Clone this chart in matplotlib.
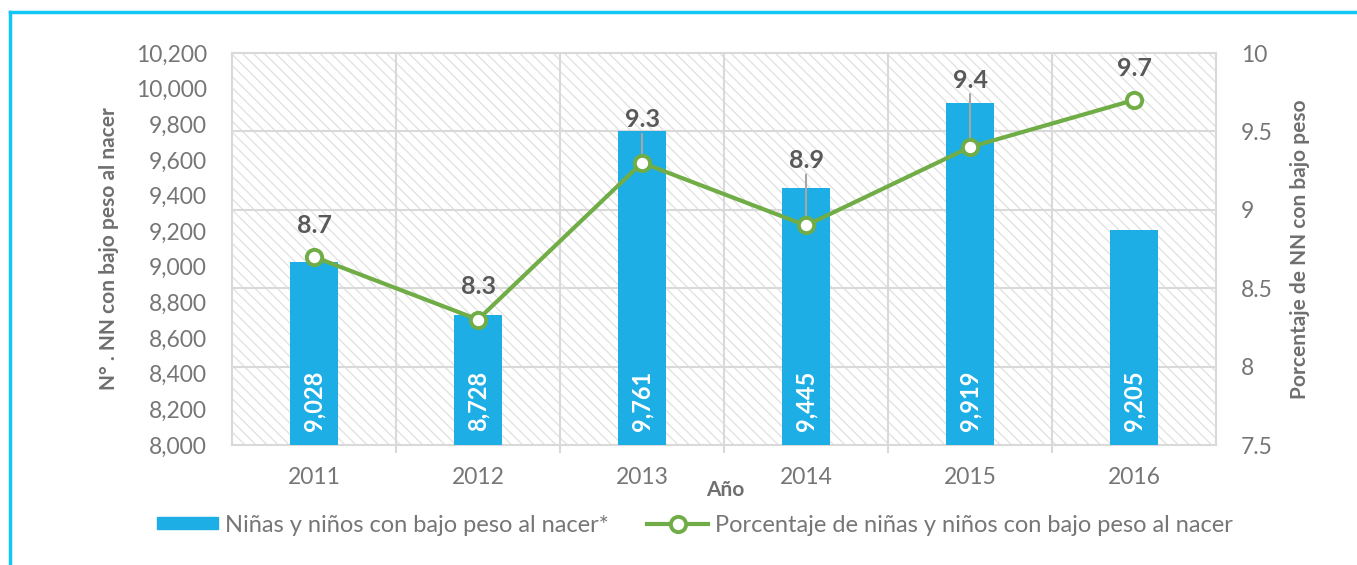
import matplotlib
matplotlib.use("Agg")
import matplotlib.pyplot as plt
from matplotlib.patches import Rectangle
from matplotlib.lines import Line2D
from matplotlib.ticker import FuncFormatter, MultipleLocator, FixedLocator

# ---- data ----
years = ["2011", "2012", "2013", "2014", "2015", "2016"]
counts = [9028, 8728, 9761, 9445, 9919, 9205]
percent = [8.7, 8.3, 9.3, 8.9, 9.4, 9.7]
bar_name = "Niñas y niños con bajo peso al nacer*"
line_name = "Porcentaje de niñas y niños con bajo peso al nacer"
ylabel_left = "N° . NN con bajo peso al nacer"
ylabel_right = "Porcentaje de NN con bajo peso"
xlabel = "Año"

# label offsets (pixels above point) and whether a leader line is drawn
label_offsets = [31, 33, 43, 65, 67, 32]
leaders = [False, False, True, True, True, False]

FONT = "Lato"
plt.rcParams['font.family'] = [FONT, 'DejaVu Sans']
plt.rcParams['hatch.linewidth'] = 0.9
TICK_C = "#767676"
LAB_C = "#6f6f6f"
GRID_C = "#d9d9d9"
BAR_C = "#1CAEE4"
LINE_C = "#70AD47"
FRAME_C = "#12C6F5"

fig = plt.figure(figsize=(13.57, 5.65), dpi=100)
W, H = 1357, 565
L, R, T, B = 232, 1216, 53, 445
ax = fig.add_axes([L / W, 1 - B / H, (R - L) / W, (B - T) / H])
ax2 = ax.twinx()

x = list(range(len(years)))

# hatched background
ax.add_patch(Rectangle((0, 0), 1, 1, transform=ax.transAxes, facecolor="white",
                       edgecolor="#e0e0e0", hatch="\\\\\\", lw=0, zorder=0))

ax.bar(x, counts, width=0.29, color=BAR_C, zorder=3)
ax.set_ylim(8000, 10200)
ax.set_xlim(-0.5, len(years) - 0.5)
ax.yaxis.set_major_locator(MultipleLocator(200))
ax.yaxis.set_major_formatter(FuncFormatter(lambda v, p: f"{int(v):,}"))
ax.set_xticks(x)
ax.set_xticklabels(years)
ax.xaxis.set_minor_locator(FixedLocator([i + 0.5 for i in range(len(years) - 1)]))
ax.tick_params(axis='x', which='major', length=0, pad=16, labelsize=16.5, labelcolor=TICK_C)
ax.tick_params(axis='x', which='minor', length=6, width=1.5, color=GRID_C)
ax.tick_params(axis='y', length=0, pad=18, labelsize=16.5, labelcolor=TICK_C)
ax.grid(axis='x', which='minor', color=GRID_C, lw=1.5, zorder=1)
for s in ax.spines.values():
    s.set_color(GRID_C)
    s.set_linewidth(1.5)

# bar value labels
for xi, c in zip(x, counts):
    ax.annotate(f"{c:,}", (xi, 8000), xytext=(0, 14), textcoords="offset pixels",
                rotation=90, ha="center", va="bottom", color="white",
                fontsize=17, fontweight="bold", zorder=5)

ax.set_ylabel(ylabel_left, fontsize=15, fontweight="bold", color=LAB_C, labelpad=12)
ax.set_xlabel(xlabel, fontsize=15, fontweight="bold", color=LAB_C, va="center")
ax.xaxis.set_label_coords((725 - L) / (R - L), -(490 - B) / (B - T))

# secondary axis
ax2.set_ylim(7.5, 10)
ax2.yaxis.set_major_locator(MultipleLocator(0.5))
ax2.yaxis.set_major_formatter(FuncFormatter(lambda v, p: f"{v:g}"))
ax2.tick_params(axis='y', length=0, pad=18, labelsize=16.5, labelcolor=TICK_C)
for s in ax2.spines.values():
    s.set_visible(False)
ax2.set_ylabel(ylabel_right, fontsize=15, fontweight="bold", color=LAB_C, labelpad=12)
ax.set_zorder(1)
ax2.set_zorder(2)
ax.patch.set_visible(False)
ax2.patch.set_visible(False)
ax2.grid(False)
# horizontal gridlines at the secondary-axis ticks, drawn beneath the bars
for v in [7.5 + 0.5 * i for i in range(1, 5)]:
    yy = 8000 + (v - 7.5) / 2.5 * 2200
    ax.axhline(yy, color=GRID_C, lw=1.5, zorder=1)

ax2.plot(x, percent, color=LINE_C, lw=3, marker="o", ms=11, mfc="white",
         mec=LINE_C, mew=2.8, zorder=4)

for xi, p, off, ld in zip(x, percent, label_offsets, leaders):
    ax2.annotate(f"{p:g}", (xi, p), xytext=(0, off), textcoords="offset pixels",
                 ha="center", va="center", color="#595959", fontsize=18,
                 fontweight="bold", zorder=6)
    if ld:
        ax2.annotate("", (xi, p), xytext=(0, off - 14), textcoords="offset pixels",
                     arrowprops=dict(arrowstyle="-", color="#a6a6a6", lw=1.5,
                                     shrinkA=0, shrinkB=0), zorder=3)

# legend
handles = [Rectangle((0, 0), 1, 1, color=BAR_C),
           Line2D([], [], color=LINE_C, lw=3, marker="o", ms=11, mfc="white",
                  mec=LINE_C, mew=2.8)]
fig.legend(handles, [bar_name, line_name], loc="center", ncol=2,
           bbox_to_anchor=(695 / W, 1 - 525 / H), frameon=False,
           fontsize=17, labelcolor=TICK_C, handlelength=2.6, handleheight=0.45,
           columnspacing=1.6, handletextpad=0.3)

# outer frame (cyan) on left and top
fig.add_artist(Line2D([9.5 / W, 9.5 / W], [0, 1 - 12 / H], transform=fig.transFigure,
                      color=FRAME_C, lw=2.5))
fig.add_artist(Line2D([9.5 / W, 1], [1 - 12 / H, 1 - 12 / H], transform=fig.transFigure,
                      color=FRAME_C, lw=2.5))

fig.savefig("out.png", dpi=100)
